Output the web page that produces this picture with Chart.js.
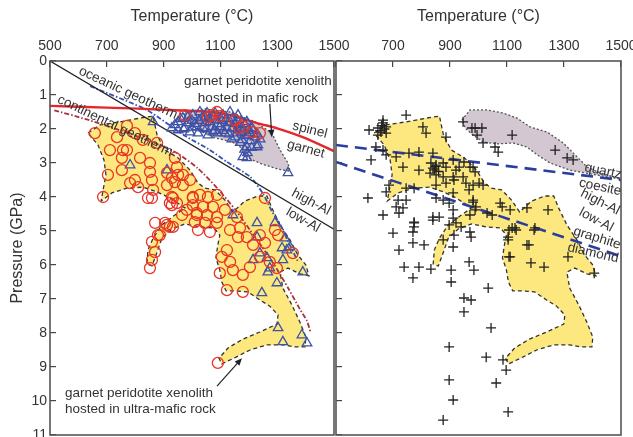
<!DOCTYPE html>
<html>
<head>
<meta charset="utf-8">
<script src="https://cdn.jsdelivr.net/npm/chart.js@4.4.0/dist/chart.umd.min.js"></script>
<style>
html, body { margin: 0; padding: 0; background: #fff; width: 633px; height: 437px; overflow: hidden; }
#left { position: absolute; left: 0; top: 0; }
#right { position: absolute; left: 324px; top: 0; }
</style>
</head>
<body>
<canvas id="left" width="364" height="453"></canvas>
<canvas id="right" width="327" height="453"></canvas>
<script>
// axis ticks
var tempTicks = [500, 700, 900, 1100, 1300, 1500];
var pressureTicks = [0, 1, 2, 3, 4, 5, 6, 7, 8, 9, 10, 11];

// [temperature degC, pressure GPa]
var ultramaficField = [
  [634,2.12],[676,1.88],[746,1.79],[817,1.68],[863,1.62],[877,2.18],[905,2.62],[951,2.85],
  [993,3.21],[1021,3.59],[1046,3.74],[1081,3.79],[1116,4.09],[1144,4.44],[1186,4.12],[1232,3.97],
  [1264,3.97],[1281,4.32],[1310,4.82],[1345,5.26],[1373,5.71],[1401,6.0],[1412,6.32],[1380,6.26],
  [1338,6.09],[1310,6.21],[1320,6.68],[1352,7.18],[1380,7.68],[1401,8.12],[1398,8.41],[1362,8.41],
  [1320,8.35],[1264,8.35],[1204,8.5],[1155,8.71],[1105,8.91],[1095,8.74],[1127,8.44],[1179,8.18],
  [1239,7.97],[1299,7.74],[1303,7.47],[1274,7.21],[1239,7.03],[1197,6.79],[1151,6.76],[1120,6.76],
  [1105,6.5],[1098,6.15],[1084,5.79],[1091,5.41],[1098,5.12],[1077,4.91],[1028,4.88],[975,4.79],
  [929,4.94],[894,5.21],[877,5.62],[859,6.03],[841,5.97],[845,5.56],[863,5.21],[894,4.82],
  [940,4.53],[975,4.32],[922,4.03],[877,3.85],[827,3.71],[771,3.74],[718,3.88],[680,4.12],
  [687,3.79],[697,3.35],[690,2.91],[669,2.47],[634,2.12]
];
var maficFieldLeft = [
  [975,1.5],[1046,1.41],[1134,1.5],[1222,1.79],[1281,2.12],[1310,2.62],[1338,3.0],[1345,3.24],
  [1303,3.18],[1246,3.03],[1197,2.85],[1176,2.56],[1141,2.38],[1081,2.26],[1021,2.03],[975,1.74],[975,1.5]
];
var maficFieldRight = [
  [942,1.74],[970,1.44],[1030,1.44],[1086,1.53],[1135,1.68],[1181,1.94],[1241,2.09],[1297,2.41],
  [1346,2.82],[1381,3.12],[1427,3.29],[1497,3.47],[1392,3.32],[1321,3.21],[1251,3.0],[1206,2.76],
  [1170,2.53],[1121,2.41],[1065,2.44],[1016,2.38],[981,2.18],[953,1.97],[942,1.74]
];

var alBoundary = [[500,0],[1500,4.95]];
var spinelGarnet = [[500,1.32],[700,1.37],[920,1.44],[1100,1.53],[1240,1.85],[1300,1.98],[1390,2.24],[1500,2.65]];
var oceanicGeotherm = [[641,0.74],[841,1.44],[975,2.2],[1060,2.6],[1123,2.97],[1204,3.4],[1250,3.9],[1280,4.4],[1310,4.8],[1335,5.25],[1373,5.9]];
var continentalGeotherm = [[515,1.45],[630,1.72],[740,2.02],[850,2.35],[945,2.7],[1020,3.15],[1090,3.75],[1155,4.4],[1205,4.98],[1245,5.45],[1290,6.0],[1340,6.7],[1380,7.3],[1405,7.65],[1418,8.0]];
var quartzCoesite = [[500,2.47],[1500,3.5]];
var graphiteDiamond = [[500,2.97],[1500,5.74]];

var circleData = [
  [771,1.91],[658,2.12],[736,2.24],[799,2.12],[827,2.32],[877,2.41],[711,2.62],[757,2.62],[771,2.62],
  [753,2.85],[817,2.85],[852,3.0],[940,2.85],[947,3.12],[704,3.35],[753,3.21],[852,3.26],[912,3.29],
  [929,3.44],[951,3.35],[968,3.35],[940,3.56],[993,3.5],[782,3.59],[799,3.5],[810,3.71],[859,3.5],
  [863,3.79],[912,3.65],[968,3.65],[687,4.0],[845,4.03],[933,4.03],[947,4.18],[922,4.18],[982,4.38],
  [1003,4.03],[1017,4.53],[912,4.82],[965,4.53],[887,5.12],[922,4.88],
  [975,1.59],[1056,1.65],[1088,1.5],[1151,1.74],[1179,1.94],[1239,2.12],[1215,2.09],[1165,1.97],[1100,1.62],[1070,1.59],
  [859,4.03],[929,4.0],[929,4.24],[1003,4.0],[1028,3.94],[1056,4.0],[1088,3.94],[1003,4.24],[1039,4.29],
  [1074,4.29],[1017,4.47],[1053,4.53],[1088,4.59],[1010,4.74],[1046,4.76],[1088,4.76],[1021,4.97],
  [1063,5.03],[905,4.76],[870,4.76],[933,4.88],[880,5.12],[859,5.32],[870,5.62],[859,5.85],[852,6.09],
  [1134,4.97],[1169,4.91],[1116,4.38],[1158,4.59],[1123,5.56],[1105,5.76],[1134,5.91],[1144,6.15],
  [1098,6.24],[1179,6.29],[1204,6.06],[1162,5.18],[1257,5.35],[1274,5.91],[1299,6.09],[1292,4.97],
  [1303,5.12],[1257,4.03],[1355,5.65],[1123,6.74],[1179,6.79],[1239,5.12],[1239,5.76],[1193,5.18],
  [1215,5.41],[1091,8.88]
];
var triangleData = [
  [940,1.88],[968,1.68],[986,1.82],[1003,1.59],[1017,1.94],[1035,1.68],[1039,1.97],[1053,1.53],[1063,1.79],
  [1074,2.09],[1088,1.74],[1098,1.94],[1109,1.59],[1116,2.12],[1127,1.82],[1141,1.97],[1144,1.68],[1158,2.12],
  [1169,1.88],[1179,2.03],[1193,1.79],[1197,2.18],[1211,1.97],[1222,2.24],[1232,2.47],[1176,2.32],[1179,2.82],
  [1193,2.85],[1338,3.29],[929,1.97],[951,2.03],[975,1.97],[993,2.09],[1021,2.12],[1046,1.82],[1070,1.94],
  [1091,2.12],[1123,1.97],[1151,2.24],[1176,2.09],[1204,2.12],[951,1.79],[1056,2.18],[1028,1.5],[1081,1.53],
  [1134,1.5],[1162,1.59],[863,1.79],[782,3.06],[912,3.21],[1193,2.53],[1229,2.53],
  [960,1.7],[985,1.65],[1000,1.75],[1010,1.85],[1025,1.75],[1045,1.65],[1060,1.7],[1075,1.65],[1090,1.85],
  [1105,1.75],[1120,1.7],[1135,1.8],[1150,1.85],[1160,1.75],[1175,1.95],[1185,1.85],[1200,2.0],[1215,2.05],
  [1230,2.15],[1240,2.3],[1050,2.0],[1080,2.05],[1110,2.05],[1130,2.15],[1160,2.0],[1190,2.2],[1205,2.35],
  [1000,1.95],[970,2.0],[1140,2.3],[1170,2.4],[1185,2.6],[1195,2.7],[1210,2.55],
  [1144,4.53],[1229,4.76],[1292,4.76],[1327,5.21],[1317,5.5],[1239,5.65],[1215,5.85],[1264,5.79],[1274,6.09],
  [1299,6.53],[1246,6.82],[1334,5.56],[1320,5.85],[1390,6.21],[1345,5.47],[1267,6.21],[1303,7.85],[1320,8.26],
  [1387,8.06],[1405,8.3],[1229,5.18]
];
var crossData = [
  [746,1.59],[665,1.82],[676,1.94],[616,2.03],[658,2.09],[647,2.18],[676,2.12],[805,1.94],[816,2.12],[886,2.24],
  [640,2.53],[665,2.62],[623,2.91],[676,2.76],[756,2.71],[791,2.68],[840,2.71],[833,3.0],[851,3.06],[840,3.15],
  [876,3.0],[886,3.12],[911,2.91],[932,3.12],[949,2.97],[711,2.82],[735,3.12],[791,3.21],[851,3.35],[876,3.41],
  [911,3.41],[946,3.41],[981,3.12],[921,3.21],[886,3.59],[914,3.5],[956,3.59],[851,3.65],[967,3.79],[1002,3.59],
  [774,3.74],[746,3.74],[686,3.65],[676,3.85],[612,4.03],[718,4.09],[746,4.09],[711,4.29],[735,4.32],[851,4.03],
  [876,4.09],[897,4.18],[911,3.88],[981,4.09],[991,4.29],[911,4.38],[840,4.59],[862,4.59],[911,4.62],[774,4.74],
  [774,4.88],[665,4.53],[721,4.47],[647,1.97],[665,1.74],[660,1.9],[670,2.0],[655,2.05],[850,3.1],[845,3.2],
  [860,3.25],[830,3.3],
  [988,1.97],[995,2.18],[1012,1.97],[1016,2.41],[1058,2.53],[1069,2.68],[1118,2.18],[1269,2.62],[1311,2.85],
  [1332,2.91],[970,3.12],[988,3.26],[981,3.65],[1016,3.65],[981,4.15],[988,4.38],[1030,4.47],[1048,4.53],
  [1076,4.18],[1083,4.29],[1111,4.38],[1170,4.32],[1244,4.38],[1118,4.91],[1128,4.91],[1198,4.91],[1104,5.18],
  [1170,5.41],[1111,5.76],[970,5.03],[970,4.53],[946,1.79],[977,1.97],
  [774,4.76],[770,5.03],[700,5.06],[840,4.68],[897,4.82],[921,4.76],[939,4.88],[914,5.12],[876,5.26],[911,5.47],
  [974,5.18],[770,5.35],[809,5.41],[721,5.56],[739,6.06],[791,6.06],[833,6.12],[770,6.38],[904,6.15],[904,6.5],
  [967,5.91],[984,6.15],[1034,6.68],[949,6.97],[974,7.03],[949,7.38],[1044,7.85],[897,8.41],[1027,8.71],
  [1086,8.79],[1097,9.09],[897,9.38],[1062,9.47],[911,9.97],[1104,10.32],[876,10.56],[1107,4.97],[1132,4.97],
  [1195,4.97],[1104,5.26],[1177,5.41],[1107,5.76],[1184,5.94],[1230,6.06],[1314,5.76],[1406,6.24]
];

var FONT = '"Liberation Sans", Arial, sans-serif';
var INK = '#333';

function pts(arr) {
  return arr.map(function(d) { return { x: d[0], y: d[1] }; });
}

function area(data, fillColor, lineColor, dash) {
  return { data: pts(data), showLine: true, fill: 'shape', backgroundColor: fillColor,
    borderColor: lineColor, borderWidth: 1.3, borderDash: dash, pointRadius: 0, order: 5 };
}

function curve(data, color, width, dash, tension) {
  return { data: pts(data), showLine: true, fill: false, borderColor: color, borderWidth: width,
    borderDash: dash || [], tension: tension || 0, pointRadius: 0, order: 3 };
}

function marks(data, style, color, r) {
  return { data: pts(data), pointStyle: style, pointRadius: r, borderColor: color, borderWidth: 1.3,
    backgroundColor: 'rgba(0,0,0,0)', order: 1 };
}

function xScale(showFirst) {
  return {
    type: 'linear', position: 'top', min: 500, max: 1500,
    afterBuildTicks: function(s) { s.ticks = tempTicks.map(function(v) { return { value: v }; }); },
    ticks: { font: { family: FONT, size: 14 }, color: INK, padding: 12, autoSkip: false, maxRotation: 0,
      callback: function(v) { return (!showFirst && v === 500) ? '' : String(v); } },
    grid: { drawOnChartArea: false, tickLength: -6, color: '#444', lineWidth: 1.2 },
    border: { display: false },
    title: { display: true, text: 'Temperature (\u00b0C)', font: { family: FONT, size: 16 }, color: INK,
      padding: { top: 7, bottom: 0 } },
    afterFit: function(s) { s.height = 61; }
  };
}

function yScale(showLabels) {
  return {
    type: 'linear', reverse: true, min: 0, max: 11,
    afterBuildTicks: function(s) { s.ticks = pressureTicks.map(function(v) { return { value: v }; }); },
    ticks: { display: showLabels, font: { family: FONT, size: 14 }, color: INK, padding: 9, autoSkip: false },
    grid: { drawOnChartArea: false, tickLength: -6, color: '#444', lineWidth: 1.2 },
    border: { display: false },
    title: { display: showLabels, text: 'Pressure (GPa)', font: { family: FONT, size: 16 }, color: INK,
      padding: { top: 8, bottom: 0 } },
    afterFit: function(s) { s.width = showLabels ? 50 : 12; }
  };
}

function notesPlugin(notes, arrows) {
  return {
    id: 'notes',
    afterDatasetsDraw: function(chart) {
      var c = chart.ctx, xs = chart.scales.x, ys = chart.scales.y, a = chart.chartArea;
      c.save();
      c.strokeStyle = '#555';
      c.lineWidth = 1.6;
      c.strokeRect(a.left, a.top, a.right - a.left, a.bottom - a.top);
      c.fillStyle = INK;
      c.font = '13.5px ' + FONT;
      notes.forEach(function(n) {
        c.save();
        c.translate(xs.getPixelForValue(n.t), ys.getPixelForValue(n.p));
        c.rotate(n.a * Math.PI / 180);
        c.textAlign = n.align || 'center';
        c.textBaseline = 'middle';
        c.fillText(n.text, 0, 0);
        c.restore();
      });
      arrows.forEach(function(ar) {
        var x1 = xs.getPixelForValue(ar.from[0]), y1 = ys.getPixelForValue(ar.from[1]);
        var x2 = xs.getPixelForValue(ar.to[0]), y2 = ys.getPixelForValue(ar.to[1]);
        var ang = Math.atan2(y2 - y1, x2 - x1);
        c.strokeStyle = '#222';
        c.fillStyle = '#222';
        c.lineWidth = 1.2;
        c.beginPath();
        c.moveTo(x1, y1);
        c.lineTo(x2 - 5 * Math.cos(ang), y2 - 5 * Math.sin(ang));
        c.stroke();
        c.beginPath();
        c.moveTo(x2, y2);
        c.lineTo(x2 - 8 * Math.cos(ang - 0.4), y2 - 8 * Math.sin(ang - 0.4));
        c.lineTo(x2 - 8 * Math.cos(ang + 0.4), y2 - 8 * Math.sin(ang + 0.4));
        c.closePath();
        c.fill();
      });
      c.restore();
    }
  };
}

var YELLOW = '#fce87e';
var MAUVE = '#d3c7d2';

new Chart(document.getElementById('left'), {
  type: 'scatter',
  data: {
    datasets: [
      area(ultramaficField, YELLOW, '#333', [4, 3]),
      area(maficFieldLeft, MAUVE, '#555', [2, 2]),
      curve(alBoundary, '#222', 1.3),
      curve(spinelGarnet, '#e5262b', 2.4, [], 0.3),
      curve(oceanicGeotherm, '#3354b5', 1.8, [5, 2, 1.5, 2], 0.2),
      curve(continentalGeotherm, '#a9343c', 1.8, [5, 2, 1.5, 2], 0.2),
      marks(circleData, 'circle', '#ea3424', 5.5),
      marks(triangleData, 'triangle', '#3d52a6', 5.5)
    ]
  },
  options: {
    responsive: false, animation: false, devicePixelRatio: 1, events: [],
    layout: { padding: { left: 0, top: 0, right: 30, bottom: 18 } },
    plugins: { legend: { display: false }, tooltip: { enabled: false } },
    scales: { x: xScale(true), y: yScale(true) }
  },
  plugins: [notesPlugin([
    { text: 'oceanic geotherm', t: 775, p: 0.94, a: 25 },
    { text: 'continental geotherm', t: 729, p: 1.91, a: 25.5 },
    { text: 'garnet peridotite xenolith', t: 1232, p: 0.59, a: 0 },
    { text: 'hosted in mafic rock', t: 1232, p: 1.09, a: 0 },
    { text: 'spinel', t: 1415, p: 2.03, a: 14 },
    { text: 'garnet', t: 1401, p: 2.59, a: 15 },
    { text: 'high-Al', t: 1419, p: 4.15, a: 28 },
    { text: 'low-Al', t: 1391, p: 4.68, a: 30 },
    { text: 'garnet peridotite xenolith', t: 553, p: 9.76, a: 0, align: 'left' },
    { text: 'hosted in ultra-mafic rock', t: 553, p: 10.24, a: 0, align: 'left' }
  ], [
    { from: [1274, 1.26], to: [1281, 2.24] },
    { from: [1088, 9.56], to: [1176, 8.74] }
  ])]
});

new Chart(document.getElementById('right'), {
  type: 'scatter',
  data: {
    datasets: [
      area(ultramaficField, YELLOW, '#333', [4, 3]),
      area(maficFieldRight, MAUVE, '#555', [2, 2]),
      curve(quartzCoesite, '#2b3d9e', 2.6, [12, 7]),
      curve(graphiteDiamond, '#2b3d9e', 2.6, [12, 7]),
      marks(crossData, 'cross', '#222', 5)
    ]
  },
  options: {
    responsive: false, animation: false, devicePixelRatio: 1, events: [],
    layout: { padding: { left: 0, top: 0, right: 30, bottom: 18 } },
    plugins: { legend: { display: false }, tooltip: { enabled: false } },
    scales: { x: xScale(false), y: yScale(false) }
  },
  plugins: [notesPlugin([
    { text: 'quartz', t: 1437, p: 3.24, a: 12 },
    { text: 'coesite', t: 1427, p: 3.71, a: 12 },
    { text: 'high-Al', t: 1427, p: 4.15, a: 27 },
    { text: 'low-Al', t: 1413, p: 4.68, a: 28 },
    { text: 'graphite', t: 1416, p: 5.21, a: 17 },
    { text: 'diamond', t: 1402, p: 5.65, a: 13 }
  ], [])]
});
</script>
</body>
</html>
